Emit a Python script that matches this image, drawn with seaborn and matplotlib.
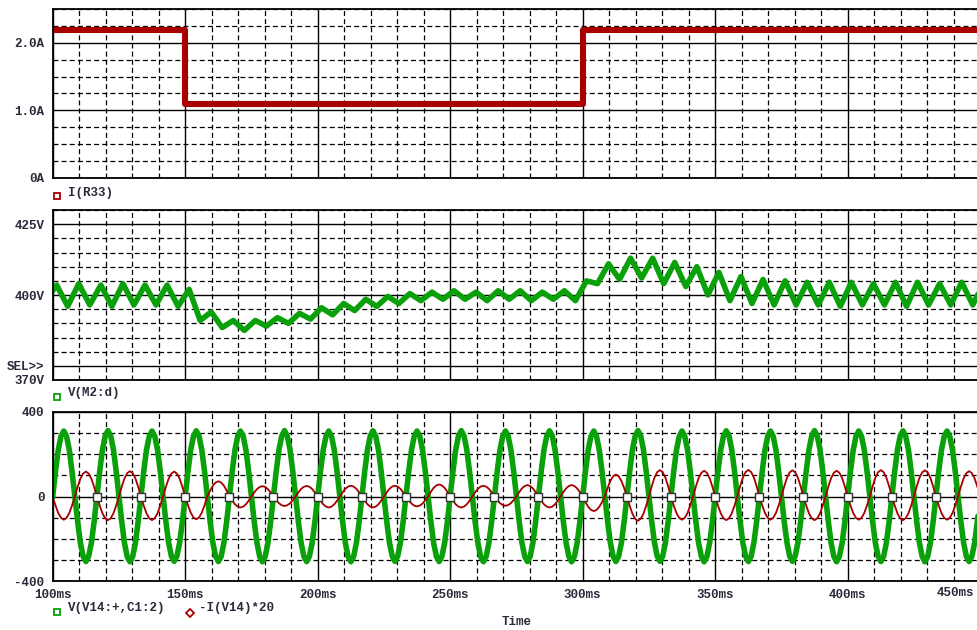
import numpy as np
import pandas as pd
import matplotlib
matplotlib.use('Agg')
import matplotlib.pyplot as plt
from matplotlib.ticker import MultipleLocator, FixedLocator
from matplotlib.lines import Line2D
import seaborn as sns

# ---- I(R33): load current step (A) ----
step_t = [100, 150, 300, 450]
step_i = [2.19, 1.09, 2.19, 2.19]

# ---- V(M2:d): ripple extremes, one every half ripple period (~4.17 ms) ----
ripple_first = 401.5          # value at t = 100 ms
ripple_t0 = 101.5             # time of the first peak (ms)
ripple_half = 4.165           # half ripple period (ms)
ripple_v = [
    403.5, 396.0, 404.0, 396.5, 403.5, 396.0, 404.0, 396.5, 403.5, 396.5, 403.5, 396.0,
    402.0, 391.0, 394.0, 388.5, 391.0, 387.5, 391.0, 389.0, 392.0, 390.0, 393.5, 391.5,
    395.5, 393.0, 397.0, 394.5, 398.5, 396.0, 399.5, 397.0, 400.5, 398.0, 401.0, 398.5,
    401.5, 398.5, 401.0, 398.0, 401.5, 398.5, 401.5, 398.0, 401.0, 398.5, 401.5, 398.0,
    405.0, 404.0, 411.0, 405.5, 413.0, 406.0, 413.0, 404.0, 411.5, 403.0, 410.0, 400.0,
    408.0, 398.0, 406.5, 397.0, 405.5, 396.5, 405.0, 396.5, 404.5, 396.5, 404.5, 396.0,
    404.5, 396.5, 404.0, 396.5, 404.5, 396.0, 404.5, 396.5, 404.0, 396.5, 404.5, 396.5,
    404.5,
]

# ---- V(V14:+,C1:2) and -I(V14)*20: 60 Hz line, amplitude per half cycle ----
cycle_start = [100.0, 116.7, 133.3, 150.0, 166.7, 183.3, 200.0, 216.7, 233.3, 250.0, 266.7,
               283.3, 300.0, 316.7, 333.3, 350.0, 366.7, 383.3, 400.0, 416.7, 433.3, 450.0]
green_amp = [310, 308, 312, 309, 310, 307, 311, 308, 310, 309, 312, 308, 310, 309,
             311, 307, 310, 308, 312, 309, 310, 308, 311, 309, 310, 308, 312, 307,
             310, 309, 311, 308, 310, 307, 312, 309, 310, 308, 311, 309, 310, 308]
red_amp = [110, 118, 112, 120, 112, 118, 108, 72, 52, 49, 45, 50, 52, 51,
           52, 51, 47, 57, 52, 51, 44, 54, 52, 54, 69, 104, 115, 125,
           110, 122, 112, 126, 110, 124, 112, 122, 110, 125, 112, 124, 110, 120]
# shape of one half cycle (normalised)
lobe = [0.0, 0.38, 0.71, 0.92, 1.0, 0.92, 0.71, 0.38]

marker_t = cycle_start[1:-1]

x_ticks = [100, 150, 200, 250, 300, 350, 400]
x_labels = ['100ms', '150ms', '200ms', '250ms', '300ms', '350ms', '400ms']

RED = '#a80000'
GREEN = '#0aa00a'
TXT = '#2a2a3a'

sns.set_style('white')
plt.rcParams['font.family'] = ['Liberation Mono', 'DejaVu Sans Mono']
plt.rcParams['font.weight'] = 'bold'


def build_sine(amps, sign0):
    t, v = [], []
    for h, a in enumerate(amps):
        c0 = cycle_start[h // 2]
        half = (cycle_start[h // 2 + 1] - c0) / 2
        start = c0 + (h % 2) * half
        sgn = sign0 if h % 2 == 0 else -sign0
        for j, s in enumerate(lobe):
            t.append(start + j * half / len(lobe))
            v.append(sgn * a * s)
    t.append(cycle_start[-1])
    v.append(0.0)
    return pd.DataFrame({'t': t, 'v': v})


def style_axes(ax, yticks, ylabels, yminor, ylim, show_x=False):
    ax.set_xlim(100, 448.8)
    ax.set_ylim(*ylim)
    ax.xaxis.set_major_locator(FixedLocator(x_ticks))
    ax.xaxis.set_minor_locator(MultipleLocator(10))
    ax.set_yticks(yticks, ylabels)
    ax.yaxis.set_minor_locator(MultipleLocator(yminor))
    ax.set_axisbelow(True)
    ax.grid(which='major', color='black', lw=1.0, ls='-')
    ax.grid(which='minor', color='black', lw=0.9, ls=(0, (4, 2.5)))
    ax.tick_params(which='minor', length=0)
    ax.tick_params(which='major', direction='out', length=3, width=1.0,
                   color='black', labelsize=9, labelcolor=TXT, pad=3)
    if show_x:
        ax.set_xticklabels(x_labels)
    else:
        ax.tick_params(axis='x', length=0, labelbottom=False)
    for side in ['left', 'bottom', 'top']:
        ax.spines[side].set_color('black')
        ax.spines[side].set_linewidth(1.3)
    ax.spines['right'].set_visible(False)
    ax.set_xlabel('')
    ax.set_ylabel('')


fig = plt.figure(figsize=(9.77, 6.3), dpi=100)
L = 52.7 / 977
W = 1 - L
ax1 = fig.add_axes([L, 1 - 178 / 630, W, 169 / 630])
ax2 = fig.add_axes([L, 1 - 380 / 630, W, 170 / 630])
ax3 = fig.add_axes([L, 1 - 581 / 630, W, 169 / 630])

# panel 1: load current
df1 = pd.DataFrame({'t': step_t, 'i': step_i})
sns.lineplot(data=df1, x='t', y='i', ax=ax1, color=RED, lw=4.4,
             drawstyle='steps-post', estimator=None, sort=False)
style_axes(ax1, [0, 1, 2], ['0A', '1.0A', '2.0A'], 0.25, (0, 2.5))

# panel 2: bus voltage
rt = [100.0] + [ripple_t0 + k * ripple_half for k in range(len(ripple_v))]
rv = [ripple_first] + ripple_v
df2 = pd.DataFrame({'t': rt, 'v': rv})
sns.lineplot(data=df2, x='t', y='v', ax=ax2, color=GREEN, lw=4.0,
             estimator=None, sort=False)
style_axes(ax2, [370, 375, 400, 425], ['370V', 'SEL>>', '400V', '425V'], 5, (370, 430))

# panel 3: line voltage and scaled current
dg = build_sine(green_amp, 1)
dr = build_sine(red_amp, -1)
sns.lineplot(data=dg, x='t', y='v', ax=ax3, color=GREEN, lw=4.0,
             estimator=None, sort=False)
sns.lineplot(data=dr, x='t', y='v', ax=ax3, color=RED, lw=1.3,
             estimator=None, sort=False)
sns.scatterplot(x=marker_t, y=[0] * len(marker_t), ax=ax3, marker='s', s=32,
                color='white', edgecolor='#333333', linewidth=1.0, zorder=5)
style_axes(ax3, [-400, 0, 400], ['-400', '0', '400'], 100, (-400, 400), show_x=True)
fig.text(955 / 977, 1 - 593 / 630, '450ms', ha='center', va='center',
         fontsize=9, color=TXT)


# legends under each panel
def px(x, y):
    return x / 977, 1 - y / 630


def legend_mark(x, y, color, marker):
    fx, fy = px(x, y)
    fig.add_artist(Line2D([fx], [fy], transform=fig.transFigure, marker=marker,
                          ms=4, mfc='none', mec=color, mew=1.3, ls='none'))


legend_mark(57, 196, RED, 's')
fig.text(*px(68, 193), 'I(R33)', ha='left', va='center', fontsize=9, color=TXT)
legend_mark(57, 397, GREEN, 's')
fig.text(*px(68, 393), 'V(M2:d)', ha='left', va='center', fontsize=9, color=TXT)
legend_mark(57, 612, GREEN, 's')
fig.text(*px(68, 608), 'V(V14:+,C1:2)', ha='left', va='center', fontsize=9, color=TXT)
legend_mark(190, 613, RED, 'D')
fig.text(*px(199, 608), '-I(V14)*20', ha='left', va='center', fontsize=9, color=TXT)
fig.text(*px(517, 622), 'Time', ha='center', va='center', fontsize=9, color=TXT)

fig.savefig('out.png', dpi=100)
